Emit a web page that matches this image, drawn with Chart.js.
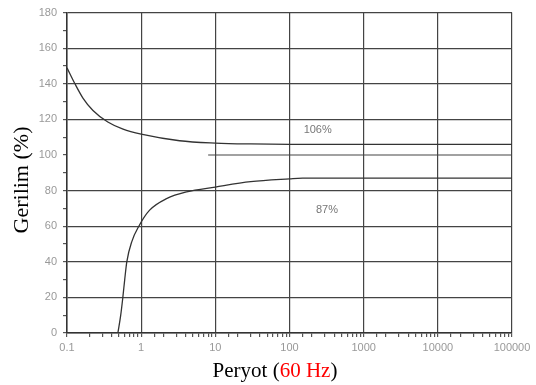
<!DOCTYPE html>
<html>
<head>
<meta charset="utf-8">
<script src="https://cdn.jsdelivr.net/npm/chart.js@4/dist/chart.umd.min.js"></script>
<style>
  html, body { margin: 0; padding: 0; background: #fff; }
  #wrap { width: 536px; height: 385px; }
</style>
</head>
<body>
<div id="wrap"><canvas id="chart" width="536" height="385"></canvas></div>
<script>
// upper tolerance curve (106%)
const upperX = [0.1, 0.128, 0.164, 0.224, 0.355, 0.57, 1, 3.3, 10, 30, 100, 100000];
const upperY = [149, 140, 132, 125, 118.5, 114.5, 111.7, 108, 106.7, 106.2, 106, 106];

// lower tolerance curve (87%)
const lowerX = [0.485, 0.53, 0.566, 0.6, 0.64, 0.75, 0.93, 1.3, 2.2, 4.1, 10, 30, 100, 150, 100000];
const lowerY = [0, 10, 20, 30, 40, 51.5, 60, 69, 75.5, 79.3, 82, 85, 86.6, 87, 87];

// the 100% grid line only shows from ~8 on in the scan
const line100X = [8, 100000];
const line100Y = [100, 100];

const xTicks = [0.1, 1, 10, 100, 1000, 10000, 100000];
const yMin = 0, yMax = 180, yStep = 10, yLabelStep = 20;

const notes = ['106%', '87%'];
const noteX = [240, 320];
const noteY = [114, 69];

const toPoints = (xs, ys) => xs.map((x, i) => ({ x: x, y: ys[i] }));

const isDecade = v => xTicks.some(t => Math.abs(v - t) / t < 1e-6);

const lineStyle = {
    borderColor: '#333',
    borderWidth: 1.3,
    pointRadius: 0,
    showLine: true,
    fill: false,
    cubicInterpolationMode: 'monotone'
};

const titles = {
    id: 'titles',
    afterDraw(chart) {
        const ctx = chart.ctx;
        const xs = chart.scales.x, ys = chart.scales.y;
        ctx.save();
        // notes on curves
        ctx.font = '11px "Liberation Sans", Arial, sans-serif';
        ctx.fillStyle = '#777';
        ctx.textAlign = 'center';
        ctx.textBaseline = 'middle';
        notes.forEach((t, i) => {
            ctx.fillText(t, xs.getPixelForValue(noteX[i]), ys.getPixelForValue(noteY[i]));
        });

        // x title, two colours
        ctx.font = '21px "Liberation Serif", "Times New Roman", serif';
        ctx.textBaseline = 'alphabetic';
        ctx.textAlign = 'left';
        const parts = [['Peryot (', '#000'], ['60 Hz', '#ff0000'], [')', '#000']];
        const total = parts.reduce((s, p) => s + ctx.measureText(p[0]).width, 0);
        let px = 275 - total / 2;
        parts.forEach(p => {
            ctx.fillStyle = p[1];
            ctx.fillText(p[0], px, 377);
            px += ctx.measureText(p[0]).width;
        });

        // y title
        ctx.translate(28, 180);
        ctx.rotate(-Math.PI / 2);
        ctx.fillStyle = '#000';
        ctx.textAlign = 'center';
        ctx.font = '22px "Liberation Serif", "Times New Roman", serif';
        ctx.fillText('Gerilim (%)', 0, 0);
        ctx.restore();
    }
};

new Chart(document.getElementById('chart'), {
    type: 'scatter',
    data: {
        datasets: [
            Object.assign({ label: '106%', data: toPoints(upperX, upperY) }, lineStyle),
            Object.assign({ label: '87%', data: toPoints(lowerX, lowerY) }, lineStyle),
            Object.assign({ label: '100', data: toPoints(line100X, line100Y) }, lineStyle, { borderColor: '#444', borderWidth: 1.2 })
        ]
    },
    options: {
        responsive: false,
        animation: false,
        layout: { padding: { top: 12, right: 24, left: 0, bottom: 0 } },
        plugins: {
            legend: { display: false },
            tooltip: { enabled: false }
        },
        scales: {
            x: {
                type: 'logarithmic',
                min: 0.1,
                max: 100000,
                afterFit(scale) { scale.height = 52; },
                border: { color: '#333', width: 1.5 },
                grid: {
                    color: ctx => isDecade(ctx.tick.value) ? '#444' : 'rgba(0,0,0,0)',
                    lineWidth: 1.2,
                    tickColor: '#555',
                    tickLength: 4
                },
                ticks: {
                    autoSkip: false,
                    maxRotation: 0,
                    padding: 4,
                    color: '#999',
                    font: { size: 11, family: '"Liberation Sans", Arial, sans-serif' },
                    callback: v => isDecade(v) ? (v < 1 ? '0.1' : String(Math.round(v))) : ''
                }
            },
            y: {
                min: yMin,
                max: yMax,
                afterFit(scale) { scale.width = 67; },
                border: { color: '#333', width: 1.5 },
                grid: {
                    color: ctx => (ctx.tick.value % yLabelStep === 0 && ctx.tick.value !== 100) ? '#444' : 'rgba(0,0,0,0)',
                    lineWidth: 1.2,
                    tickColor: '#555',
                    tickLength: 4
                },
                ticks: {
                    stepSize: yStep,
                    padding: 6,
                    color: '#999',
                    font: { size: 11, family: '"Liberation Sans", Arial, sans-serif' },
                    callback: v => v % yLabelStep === 0 ? String(v) : ''
                }
            }
        }
    },
    plugins: [titles]
});
</script>
</body>
</html>
